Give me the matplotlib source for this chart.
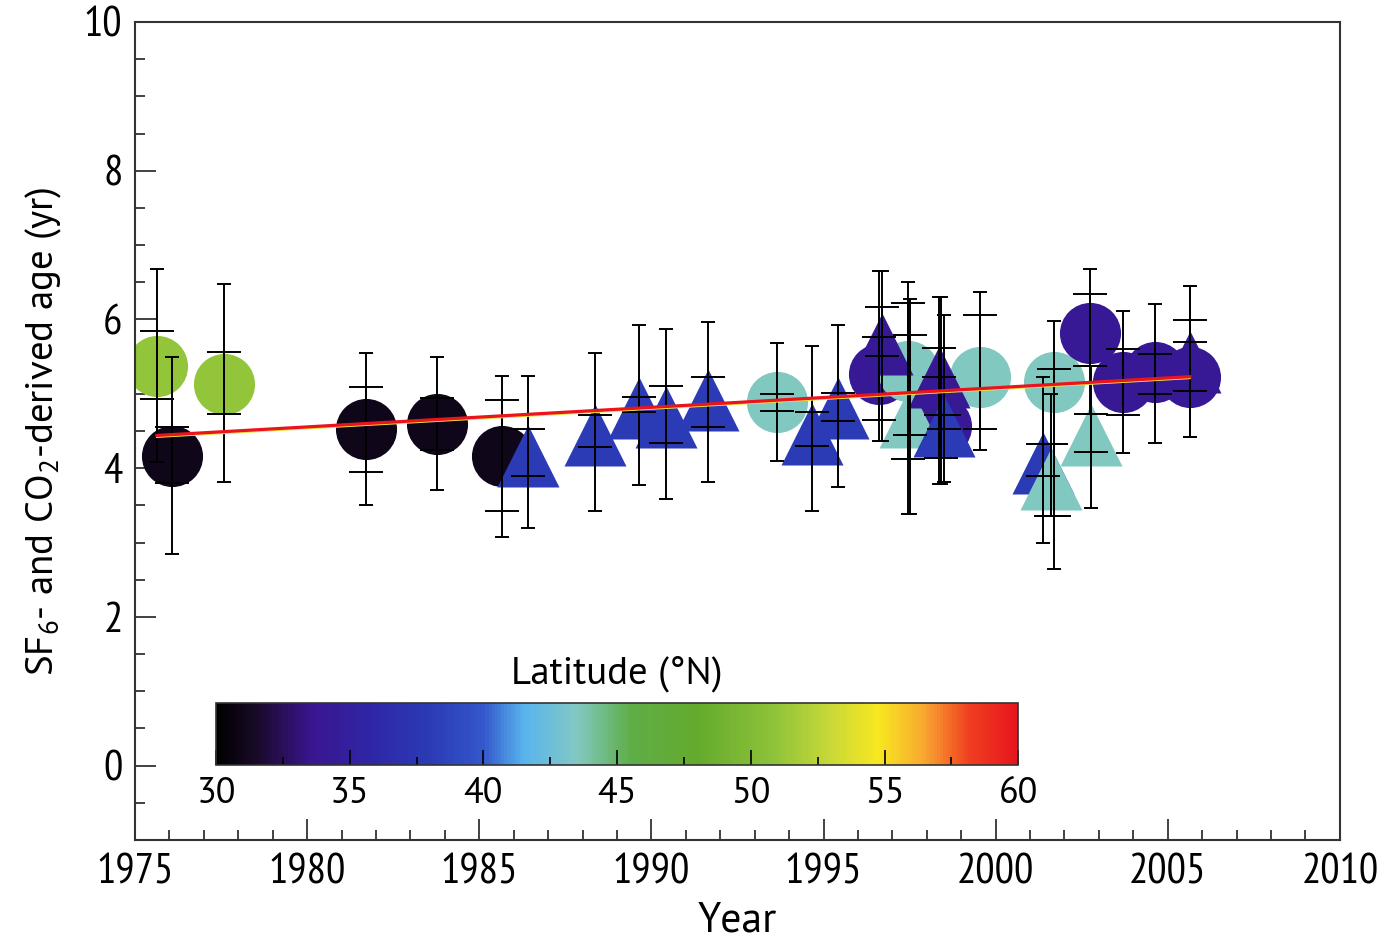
import matplotlib
matplotlib.use("Agg")
import matplotlib.pyplot as plt
import matplotlib.transforms as mtransforms
from matplotlib.colors import LinearSegmentedColormap, Normalize
from matplotlib.colorbar import ColorbarBase
from matplotlib.ticker import MultipleLocator

plt.rcParams['font.family'] = ['PT Sans Narrow', 'DejaVu Sans']
plt.rcParams['mathtext.default'] = 'regular'
LABEL_FONT = ['PT Sans', 'DejaVu Sans']

# Circle samples: year, age, latitude, outer and inner uncertainty ranges
c_year = [1975.64, 1976.07, 1977.59, 1981.71, 1983.77, 1985.66, 1993.65, 1996.60,
          1997.45, 1998.40, 1999.54, 2001.70, 2002.74, 2003.70, 2004.63, 2005.64]
c_age = [5.38, 4.16, 5.13, 4.53, 4.60, 4.16, 4.89, 5.27,
         5.30, 4.57, 5.22, 5.16, 5.82, 5.16, 5.29, 5.23]
c_lat = [51, 31, 51, 31, 31, 31, 43.5, 34, 43.5, 34, 43.5, 43.5, 34, 34, 34, 34]
c_out_lo = [4.08, 2.84, 3.81, 3.50, 3.71, 3.07, 4.09, 4.37,
            3.39, 3.79, 4.24, 2.65, 4.73, 4.20, 4.34, 4.42]
c_out_hi = [6.68, 5.50, 6.47, 5.55, 5.50, 5.24, 5.68, 6.65,
            6.51, 6.30, 6.37, 5.98, 6.68, 6.11, 6.21, 6.45]
c_in_lo = [4.93, 3.80, 4.73, 3.95, 4.25, 3.42, 4.77, 4.65,
           4.12, 4.14, 4.53, 3.36, 5.38, 4.71, 5.00, 5.04]
c_in_hi = [5.84, 4.55, 5.56, 5.09, 4.95, 4.91, 5.00, 5.76,
           6.22, 4.71, 6.06, 5.33, 6.34, 5.60, 5.54, 5.70]

# Triangle samples
t_year = [1986.41, 1988.36, 1989.64, 1990.42, 1991.64, 1994.66, 1995.42, 1996.70,
          1997.50, 1998.35, 1998.50, 2001.37, 2001.60, 2002.77, 2005.64]
t_age = [4.16, 4.44, 4.81, 4.69, 4.91, 4.46, 4.81, 5.67,
         4.69, 5.23, 4.57, 4.07, 3.86, 4.44, 5.43]
t_lat = [38, 38, 38, 38, 38, 38, 38, 34, 43.5, 34, 38, 38, 43.5, 43.5, 34]
t_out_lo = [3.20, 3.42, 3.77, 3.58, 3.81, 3.42, 3.75, 4.37,
            3.39, 3.79, 3.81, 2.99, 3.36, 3.47, 4.42]
t_out_hi = [5.24, 5.55, 5.93, 5.87, 5.97, 5.64, 5.93, 6.65,
            6.28, 6.30, 6.06, 5.23, 5.00, 5.38, 6.45]
t_in_lo = [3.90, 4.28, 4.76, 4.34, 4.56, 4.30, 4.64, 5.51,
           4.45, 5.23, 4.53, 3.90, 3.36, 4.22, 5.04]
t_in_hi = [4.53, 4.71, 4.96, 5.11, 5.23, 4.76, 5.01, 6.17,
           5.79, 5.62, 4.71, 4.33, 4.33, 4.73, 5.99]

# Linear trend end points
trend_year = [1975.64, 2005.64]
trend_age = [4.44, 5.23]

# Latitude colour scale
lat_nodes = [30, 31.5, 33.5, 36, 38, 40, 41.5, 43.5, 45.5, 48, 51, 53, 54.8, 56.5, 58.2, 60]
lat_colors = ['#000000', '#1a0a28', '#3a1590', '#2e28a8', '#2b3bb5', '#3458cc', '#58b4ee',
              '#82c8c2', '#5eae48', '#64aa2c', '#90c43a', '#c8d838', '#f8e820', '#f8a830',
              '#f04020', '#e8141e']
norm = Normalize(30, 60)
cmap = LinearSegmentedColormap.from_list(
    'lat', [((v - 30) / 30, c) for v, c in zip(lat_nodes, lat_colors)])


def err(y, lo, hi):
    return [[a - b for a, b in zip(y, lo)], [b - a for a, b in zip(y, hi)]]


fig = plt.figure(figsize=(13.88, 9.47), dpi=100)
ax = fig.add_axes([0.0973, 0.113, 0.868, 0.8638])

for x, y, lat in zip(c_year, c_age, c_lat):
    ax.plot(x, y, 'o', ms=44, color=cmap(norm(lat)), mec='none', zorder=2)
for x, y, lat in zip(t_year, t_age, t_lat):
    ax.plot(x, y, '^', ms=44, color=cmap(norm(lat)), mec='none', zorder=2)

# error bars: small caps for the full range, wide caps for the inner range
for xs, ys, olo, ohi, ilo, ihi in [(c_year, c_age, c_out_lo, c_out_hi, c_in_lo, c_in_hi),
                                   (t_year, t_age, t_out_lo, t_out_hi, t_in_lo, t_in_hi)]:
    ax.errorbar(xs, ys, yerr=err(ys, olo, ohi), fmt='none', ecolor='black',
                elinewidth=1.4, capsize=4.7, capthick=1.4, zorder=3)
    ax.errorbar(xs, ys, yerr=err(ys, ilo, ihi), fmt='none', ecolor='black',
                elinewidth=1.4, capsize=12.5, capthick=1.4, zorder=3)

# trend line with a thin yellow fringe just underneath
shifted = mtransforms.offset_copy(ax.transData, fig=fig, x=0, y=-1.0, units='points')
ax.plot(trend_year, trend_age, color='#f5e23c', lw=1.6, zorder=4, transform=shifted)
ax.plot(trend_year, trend_age, color='#e8141e', lw=2.3, zorder=4)

ax.set_xlim(1975, 2010)
ax.set_ylim(-1, 10)
ax.xaxis.set_major_locator(MultipleLocator(5))
ax.xaxis.set_minor_locator(MultipleLocator(1))
ax.set_yticks([0, 2, 4, 6, 8, 10])
ax.yaxis.set_minor_locator(MultipleLocator(0.5))
ax.tick_params(which='both', direction='in', top=False, right=False,
               width=1.3, color='#333333', labelsize=31)
ax.tick_params(which='major', length=15)
ax.tick_params(which='minor', length=7)
ax.tick_params(axis='x', pad=10)
ax.tick_params(axis='y', pad=9)
for s in ax.spines.values():
    s.set_color('#333333')
    s.set_linewidth(1.5)

ax.set_xlabel('Year', fontsize=30, labelpad=6, family=LABEL_FONT)
ax.set_ylabel('SF$_6$- and CO$_2$-derived age (yr)', fontsize=28, labelpad=14,
              family=LABEL_FONT)

# latitude colour bar inset
cax = fig.add_axes([0.1556, 0.1922, 0.578, 0.0655])
cb = ColorbarBase(cax, cmap=cmap, norm=norm, orientation='horizontal')
cb.set_ticks([30, 35, 40, 45, 50, 55, 60])
cax.xaxis.set_minor_locator(MultipleLocator(2.5))
cax.tick_params(which='both', direction='in', labelsize=26, pad=9, color='black', width=1.2)
cax.tick_params(which='major', length=11)
cax.tick_params(which='minor', length=6)
for lab in cax.get_xticklabels():
    lab.set_family(LABEL_FONT)
cb.outline.set_linewidth(1.2)
cb.outline.set_edgecolor('#333333')
cax.set_title('Latitude (°N)', fontsize=28, pad=14, family=LABEL_FONT)

fig.savefig('out.png', dpi=100)
